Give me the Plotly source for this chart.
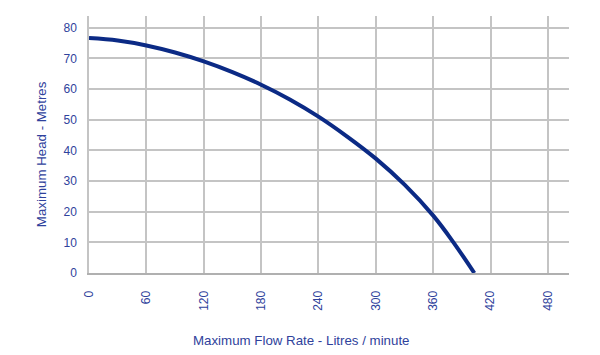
import plotly.graph_objects as go

flow = [0, 30, 60, 90, 120, 150, 180, 210, 240, 270, 300, 330, 360, 380, 403]
head = [76.6, 75.8, 74.2, 71.9, 69.0, 65.5, 61.4, 56.6, 51.0, 44.5, 37.3, 28.8, 18.7, 10.5, 0.0]
x_ticks = [0, 60, 120, 180, 240, 300, 360, 420, 480]
y_ticks = [0, 10, 20, 30, 40, 50, 60, 70, 80]

text_color = "#2f429c"
grid_color = "#c4c4c4"

# page body has an 8px margin, so the figure is offset by 8px right and down
off = 8
plot_l, plot_r, plot_t, plot_b = 89, 569, 16, 272.7
pw, ph = plot_r - plot_l, plot_b - plot_t

fig = go.Figure()
fig.add_trace(go.Scatter(x=flow, y=head, mode="lines", line=dict(color="#0b2a85", width=4, shape="spline"),
                         hoverinfo="skip", showlegend=False))

fig.update_layout(
    width=600, height=355,
    margin=dict(l=plot_l - off, r=600 - (plot_r - off), t=plot_t - off, b=355 - (plot_b - off)),
    paper_bgcolor="white", plot_bgcolor="white",
    font=dict(family="Liberation Sans, Arial, sans-serif", size=12, color=text_color),
    xaxis=dict(range=[0, 502], tickvals=x_ticks, ticktext=[str(v) for v in x_ticks],
               tickangle=-90, showgrid=True, gridcolor=grid_color, gridwidth=1.5,
               zeroline=False, showline=True, linecolor="#b0b0b0", linewidth=2,
               ticks="", ticklen=0, fixedrange=True),
    yaxis=dict(range=[0, 83.8], tickvals=y_ticks, showgrid=True, gridcolor=grid_color, gridwidth=1.5,
               zeroline=False, showline=True, linecolor="#c4c4c4", linewidth=1.5,
               ticks="outside", ticklen=8, tickcolor="rgba(0,0,0,0)",
               fixedrange=True),
    annotations=[
        dict(text="Maximum Flow Rate - Litres / minute", xref="paper", yref="paper",
             x=(301 - plot_l) / pw, y=-(340 - plot_b) / ph,
             xanchor="center", yanchor="middle",
             showarrow=False, font=dict(size=13.3, color=text_color)),
        dict(text="Maximum Head - Metres", xref="paper", yref="paper", textangle=-90,
             x=-(plot_l - 41) / pw, y=(plot_b - 154) / ph,
             xanchor="center", yanchor="middle",
             showarrow=False, font=dict(size=13.3, color=text_color)),
    ],
)
fig.update_xaxes(ticklabelstandoff=11)
fig.write_html("out.html")
